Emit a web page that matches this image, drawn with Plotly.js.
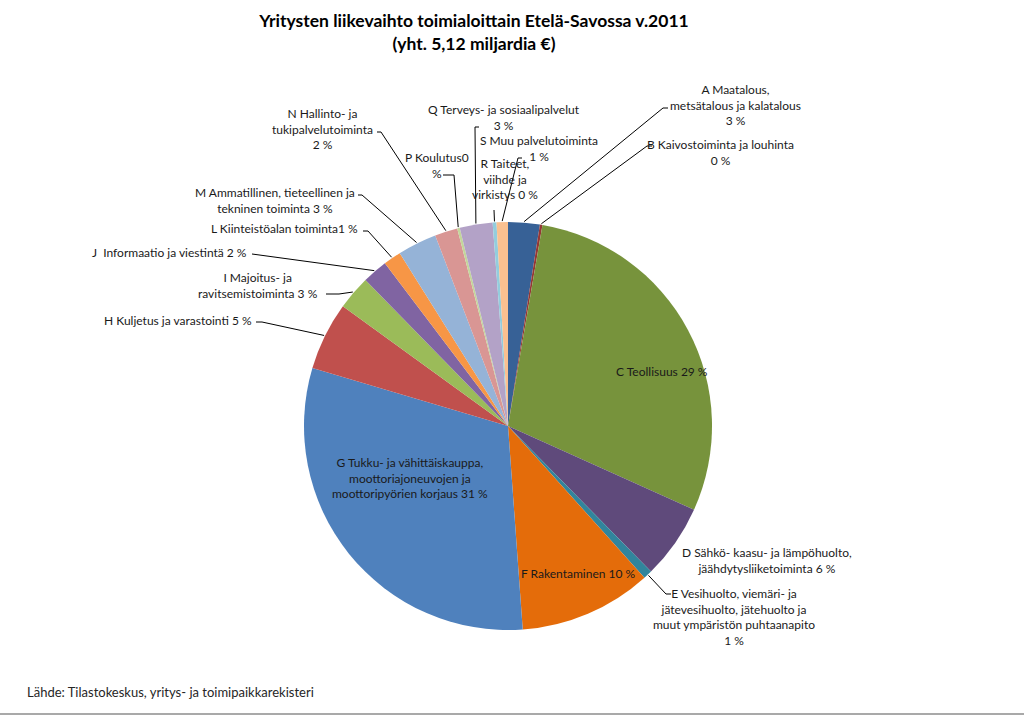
<!DOCTYPE html>
<html>
<head>
<meta charset="utf-8">
<script src="https://cdn.plot.ly/plotly-3.0.1.min.js"></script>
<style>html,body{margin:0;padding:0;background:#fff}#chart{width:1024px;height:716px}</style>
</head>
<body>
<div id="chart"></div>
<script>
// ---- data ----
const categories = ["A","B","C","D","E","F","G","H","I","J","L","M","N","P","Q","R","S"];
const values = [2.5, 0.2, 29.0, 5.9, 0.7, 10.5, 30.7, 5.4, 2.7, 2.0, 1.4, 3.1, 1.8, 0.2, 2.6, 0.3, 0.9];
const labelTexts = [
  "A Maatalous,<br>metsätalous ja kalatalous<br>3 %",
  "B Kaivostoiminta ja louhinta<br>0 %",
  "C Teollisuus 29 %",
  "D Sähkö- kaasu- ja lämpöhuolto,<br>jäähdytysliiketoiminta 6 %",
  "E Vesihuolto, viemäri- ja<br>jätevesihuolto, jätehuolto ja<br>muut ympäristön puhtaanapito<br>1 %",
  "F Rakentaminen 10 %",
  "G Tukku- ja vähittäiskauppa,<br>moottoriajoneuvojen ja<br>moottoripyörien korjaus 31 %",
  "H Kuljetus ja varastointi 5 %",
  "I Majoitus- ja<br>ravitsemistoiminta 3 %",
  "J  Informaatio ja viestintä 2 %",
  "L Kiinteistöalan toiminta1 %",
  "M Ammatillinen, tieteellinen ja<br>tekninen toiminta 3 %",
  "N Hallinto- ja<br>tukipalvelutoiminta<br>2 %",
  "P Koulutus0<br>%",
  "Q Terveys- ja sosiaalipalvelut<br>3 %",
  "R Taiteet,<br>viihde ja<br>virkistys 0 %",
  "S Muu palvelutoiminta<br>1 %"
];
const titleText = "<b>Yritysten liikevaihto toimialoittain Etelä-Savossa v.2011<br>(yht. 5,12 miljardia €)</b>";
const sourceText = "Lähde: Tilastokeskus, yritys- ja toimipaikkarekisteri";

// ---- styles ----
const colors = ["#376196","#953735","#77933C","#5F4A7B","#31859C","#E46C0A",
  "#4F81BD","#C0504D","#9BBB59","#8064A2","#F79646","#95B3D7","#D99694",
  "#C3D69B","#B3A2C7","#93CDDD","#FAC090"];

const W = 1024, H = 716;
const CX = 508, CY = 426, R = 204;
const dom = {x:[(CX-R)/W,(CX+R)/W], y:[(H-CY-R)/H,(H-CY+R)/H]};

// label placement: [x, y(center), xanchor, leader label point, stub dx]
const labelPos = {
  A:[735,105,"center",[668,108],-5],
  B:[720,152,"center",[652,146],-5],
  C:[662,372,"center",null,0],
  D:[767,560,"center",null,0],
  E:[734,617,"center",[671,594],-5],
  F:[578,573,"center",null,0],
  G:[410,478,"center",null,0],
  H:[254,320,"right",[256,322],6],
  I:[258,285,"center",[326,294],13],
  J:[249,252,"right",[252,254],0],
  L:[360,229,"right",[363,231],5],
  M:[275,200,"center",[358,195],4],
  N:[322,129,"center",[377,132],4],
  P:[437,165,"center",[443,175],11],
  Q:[504,117,"center",[479,127],-4],
  R:[505,179,"center",[494,210],0],
  S:[539,149,"center",[522,158],-4]
};

const total = values.reduce((a,b)=>a+b,0);
const annotations = [];
const shapes = [];
let cum = 0;
categories.forEach((c,i)=>{
  const mid = (cum + values[i]/2)/total*2*Math.PI;
  cum += values[i];
  const rx = CX + (R+1)*Math.sin(mid), ry = CY - (R+1)*Math.cos(mid);
  const p = labelPos[c];
  annotations.push({
    text: labelTexts[i], x: p[0]/W, y: 1-p[1]/H, xref:"paper", yref:"paper",
    xanchor: p[2], yanchor:"middle", align: p[2]==="right"?"right":"center",
    showarrow:false, font:{family:"Lato, 'Open Sans', sans-serif", size:12, color:"#1a1a1a"}
  });
  if (p[3]) {
    const x0=p[3][0], y0=p[3][1], x1=x0+p[4];
    shapes.push({type:"path", xref:"paper", yref:"paper",
      path:`M ${x0/W},${1-y0/H} L ${x1/W},${1-y0/H} L ${rx/W},${1-ry/H}`,
      line:{color:"#000", width:1}});
  }
});
annotations.push({text:sourceText, x:25/W, y:1-692/H, xref:"paper", yref:"paper",
  xanchor:"left", yanchor:"middle", showarrow:false,
  font:{family:"Lato, 'Open Sans', sans-serif", size:13, color:"#262626"}});
shapes.push({type:"line", xref:"paper", yref:"paper", x0:0, x1:1, y0:1-714/H, y1:1-714/H,
  line:{color:"#8c8c8c", width:1.5}});

const trace = {
  type:"pie", labels:categories, values:values, sort:false, direction:"clockwise",
  rotation:0, marker:{colors:colors, line:{width:0}}, textinfo:"none",
  hoverinfo:"none", domain:dom
};
const layout = {
  width:W, height:H, margin:{l:0,r:0,t:0,b:0}, showlegend:false,
  paper_bgcolor:"#fff",
  title:{text:titleText, x:474/W, xanchor:"center", y:1-27/H, yanchor:"middle", yref:"container",
    font:{family:"Lato, 'Open Sans', sans-serif", size:17.5, color:"#000"}},
  annotations:annotations, shapes:shapes
};
Plotly.newPlot("chart",[trace],layout,{displayModeBar:false,staticPlot:true});
</script>
</body>
</html>
